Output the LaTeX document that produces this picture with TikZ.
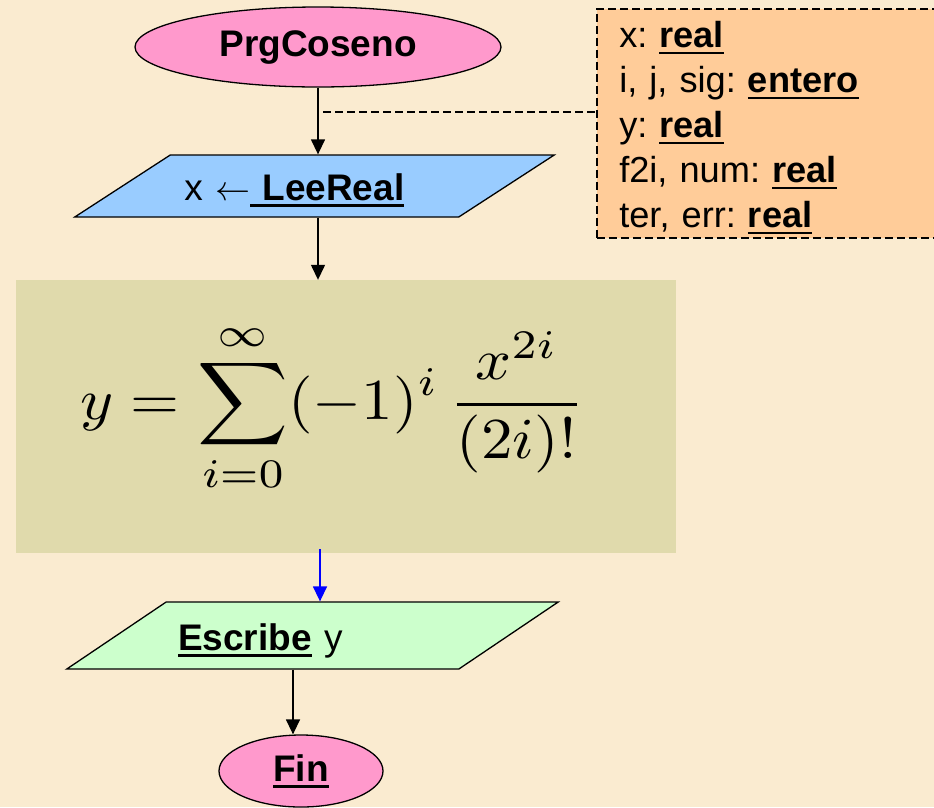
\documentclass[tikz,border=0pt]{standalone}
\usepackage{graphicx}
\usepackage{fontspec}
\setmainfont{Liberation Sans}
\usetikzlibrary{arrows.meta, shapes.geometric, calc}

\definecolor{fondo}{RGB}{250,235,208}
\definecolor{rosa}{RGB}{255,153,204}
\definecolor{azul}{RGB}{153,204,255}
\definecolor{durazno}{RGB}{255,204,153}
\definecolor{caqui}{RGB}{224,218,172}
\definecolor{verde}{RGB}{204,255,204}

\newcommand{\subr}[1]{\sbox{0}{#1}\rlap{\rule[-6.5pt]{\wd0}{2.6pt}}\usebox{0}}
\newcommand{\asigna}{{\fontsize{10}{12}\selectfont\scalebox{3.5}{$\leftarrow$}}}

\begin{document}
\frenchspacing
\begin{tikzpicture}[x=1pt, y=-1pt,
    every node/.style={font=\fontsize{37}{45}\selectfont},
    terminal/.style={ellipse, draw, line width=1.3pt, fill=rosa, inner sep=0pt},
    entrada/.style={trapezium, draw, line width=1.3pt, inner sep=0pt, align=left},
    nota/.style={draw, line width=1.5pt, dash pattern=on 8pt off 4pt, fill=durazno},
    flecha/.style={-{Triangle[length=15pt, width=14pt]}, line width=1.4pt}]
    \fill[fondo] (0,0) rectangle (934,807);
    \useasboundingbox (0,0) rectangle (934,807);

    \node[terminal, minimum width=366pt, minimum height=80pt] (inicio) at (318,47) {\textbf{PrgCoseno}};
    \node[entrada, trapezium left angle=33, trapezium right angle=147, fill=azul,
        text width=288.5pt, text height=45pt, text depth=17pt] (lee) at (314.5,186)
        {\hspace*{14pt}x \asigna\subr{\space\textbf{LeeReal}}};

    \node[nota, anchor=north west, text width=300pt, align=left, inner xsep=21pt, inner ysep=0pt,
        minimum width=345pt, font=\fontsize{36.2}{45}\selectfont] (decl) at (596,8)
        {\rule{0pt}{39pt}x: \subr{\textbf{real}}\\
         i, j, sig: \subr{\textbf{entero}}\\
         y: \subr{\textbf{real}}\\
         f2i, num: \subr{\textbf{real}}\\
         ter, err: \subr{\textbf{real}}\rule[-10pt]{0pt}{10pt}};
    \coordinate (enlace) at (323,112);

    \node[fill=caqui, minimum width=660pt, minimum height=273pt, inner sep=0pt] (calculo) at (346,416.5) {};
    \node[anchor=base west, inner sep=0pt, font=\fontsize{10}{12}\selectfont] (formula) at (80,419)
        {\scalebox{6.3}[5.8]{$\displaystyle y=\sum_{i=0}^{\infty}(-1)^{i}\,\frac{x^{2i}}{(2i)!}$}};

    \node[entrada, trapezium left angle=34, trapezium right angle=146, fill=verde,
        text width=292.7pt, text height=48pt, text depth=19pt] (escribe) at (312.5,635.5)
        {\hspace*{12pt}\subr{\textbf{Escribe}} y};

    \node[terminal, minimum width=164pt, minimum height=72pt] (fin) at (301,771) {\subr{\textbf{Fin}}};

    \draw[flecha] (inicio.south) -- (inicio.south |- lee.north);
    \draw[flecha] (inicio.south |- lee.south) -- (inicio.south |- calculo.north);
    \draw[line width=1.5pt, dash pattern=on 8pt off 4pt] (enlace) -- (enlace -| decl.west);
    \draw[flecha, blue] ([xshift=-26pt, yshift=4pt]calculo.south) -- ([xshift=-26pt]calculo.south |- escribe.north);
    \draw[flecha] ([xshift=-8pt]fin.north |- escribe.south) -- ([xshift=-8pt]fin.north);
\end{tikzpicture}
\end{document}
